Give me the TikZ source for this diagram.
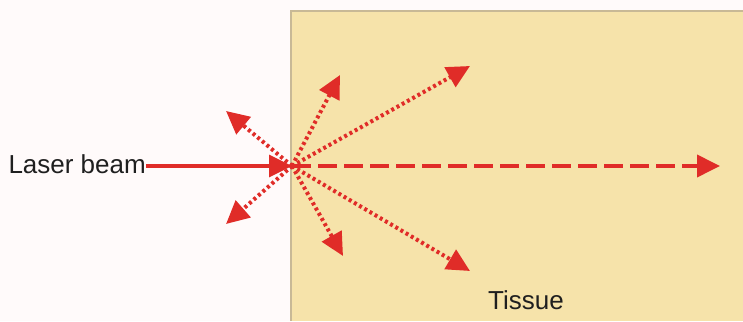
\documentclass[tikz,border=0pt]{standalone}
\usepackage{fontspec}
\setmainfont{Liberation Sans}
\usetikzlibrary{arrows.meta}
\definecolor{beamred}{RGB}{224,44,40}
\definecolor{tissuefill}{RGB}{246,227,170}
\definecolor{tissueedge}{RGB}{200,185,150}
\tikzset{
  beam/.style={draw=beamred, line width=3.2pt, -{Triangle[length=23pt,width=22pt]}},
  scatter/.style={beam, line width=4pt, dash pattern=on 3pt off 3pt},
  through/.style={beam, line width=3.8pt, dash pattern=on 19pt off 7pt},
  lbl/.style={font=\fontsize{26}{30}\selectfont, inner sep=0pt, text=black!88}
}
\begin{document}
\begin{tikzpicture}[x=1pt,y=1pt]
  \useasboundingbox (0,0) rectangle (743,321);
  \fill[white!98!red] (0,0) rectangle (743,321);
  % tissue block
  \fill[tissuefill] (291,0) rectangle (743,310);
  \draw[tissueedge, line width=2pt] (291,0) -- (291,310) -- (743,310);
  % labels
  \node[lbl, anchor=east] (laser) at (146,157) {Laser beam};
  \node[lbl] (tissue) at (526,21) {Tissue};
  % point of incidence and arrow tips
  \coordinate (hit) at (292,155);
  \coordinate (tUL) at (226,210);
  \coordinate (tDL) at (226,97);
  \coordinate (tU1) at (340,246);
  \coordinate (tU2) at (470,255);
  \coordinate (tD1) at (343,65);
  \coordinate (tD2) at (470,50);
  \coordinate (tR) at (720,155);
  % incident beam
  \draw[beam] (laser.east |- hit) -- (hit);
  % transmitted beam
  \draw[through] (hit) -- (tR);
  % scattered light
  \foreach \t in {tUL,tDL,tU1,tU2,tD1,tD2}
    \draw[scatter] (hit) -- (\t);
\end{tikzpicture}
\end{document}
